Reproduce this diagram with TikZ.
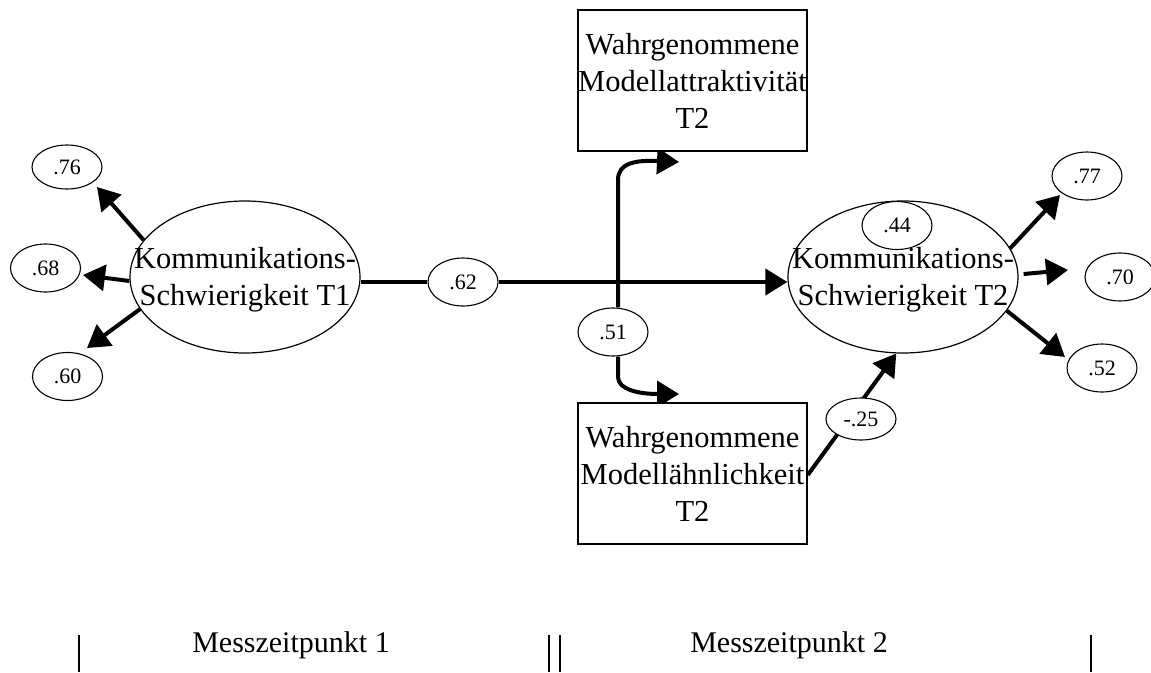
\documentclass[tikz,border=0pt]{standalone}
\usepackage{fontspec}
\setmainfont{Liberation Serif}
\usetikzlibrary{shapes.geometric,arrows.meta,backgrounds}
\begin{document}
\begin{tikzpicture}[x=1pt,y=-1pt,
  lat/.style={ellipse,draw,line width=1.2pt,fill=white,minimum width=230pt,minimum height=152pt,inner sep=0pt},
  err/.style={ellipse,draw,line width=1.1pt,fill=white,minimum width=70pt,minimum height=48pt,inner sep=0pt,font=\fontsize{22}{26}\selectfont},
  obs/.style={rectangle,draw,line width=1.5pt,fill=white,minimum width=229pt,minimum height=141pt,inner sep=0pt,align=center,font=\fontsize{30.5}{37}\selectfont},
  lbl/.style={align=center,inner sep=0pt,font=\fontsize{30.5}{37}\selectfont},
  conn/.style={line width=4pt},
  arr/.style={line width=4pt,-{Triangle[length=22pt,width=26pt]}},
  sepline/.style={line width=1.3pt}]
\useasboundingbox (0,0) rectangle (1151,672);

% latent variables
\node[lat] (T1) at (245,277) {};
\node[lbl] (T1t) at (245,280) {Kommunikations-\\Schwierigkeit T1};
\node[lat] (T2) at (903,277) {};
\node[lbl] (T2t) at (903,280) {Kommunikations-\\Schwierigkeit T2};

% observed boxes
\node[obs] (Att) at (692.5,80.5) {Wahrgenommene\\Modellattraktivit\"at\\T2};
\node[obs] (Sim) at (692.5,473.5) {Wahrgenommene\\Modell\"ahnlichkeit\\T2};

% small ellipses
\node[err,minimum height=44pt] (e76) at (67,167) {.76};
\node[err] (e68) at (45.5,268) {.68};
\node[err] (e60) at (67.5,376.5) {.60};
\node[err] (e62) at (463,282) {.62};
\node[err] (e51) at (613,332) {.51};
\node[err] (e44) at (897,225.5) {.44};
\node[err] (e77) at (1087,176) {.77};
\node[err] (e70) at (1120,277) {.70};
\node[err] (e52) at (1102,368) {.52};
\node[err,minimum height=42pt] (e25) at (861,419) {-.25};

% arrow end points
\coordinate (t76) at (97,187);
\coordinate (t68) at (83,275);
\coordinate (t60) at (87,348);
\coordinate (t77) at (1060,195);
\coordinate (t70) at (1068,270);
\coordinate (t52) at (1065,357);
\coordinate (attIn) at (679,162);
\coordinate (simIn) at (679,394);

\begin{scope}[on background layer]
  \draw[arr] (T1.160) -- (t76);
  \draw[arr] ([yshift=-4pt]T1.west) -- (t68);
  \draw[arr] (T1.197) -- (t60);
  \draw[conn] (e62.west -| T1.east) -- (e62.west);
  \draw[arr] (e62.east) -- (e62.east -| T2.west);
  \draw[arr] ([xshift=5pt]e51.north) -- (618,180) .. controls (618,163) and (635,160) .. (attIn);
  \draw[arr] ([xshift=5pt]e51.south) -- (618,377) .. controls (618,390) and (640,394) .. (simIn);
  \draw[arr] ([yshift=-1.5pt]Sim.east) -- (T2.265.6);
  \draw[arr] (T2.15) -- (t77);
  \draw[arr] ([xshift=5pt,yshift=3pt]T2.east) -- (t70);
  \draw[arr] (T2.342.4) -- (t52);
\end{scope}

% time labels and separators
\node[lbl,anchor=base,font=\fontsize{30}{36}\selectfont] (m1) at (291,652) {Messzeitpunkt 1};
\node[lbl,anchor=base,font=\fontsize{30}{36}\selectfont] (m2) at (789,652) {Messzeitpunkt 2};
\coordinate (s1) at (79,635);
\coordinate (s2) at (549,635);
\coordinate (s3) at (560,635);
\coordinate (s4) at (1091,635);
\draw[sepline] (s1) -- (s1 |- 0,672);
\draw[sepline] (s2) -- (s2 |- 0,672);
\draw[sepline] (s3) -- (s3 |- 0,672);
\draw[sepline] (s4) -- (s4 |- 0,672);
\end{tikzpicture}
\end{document}
